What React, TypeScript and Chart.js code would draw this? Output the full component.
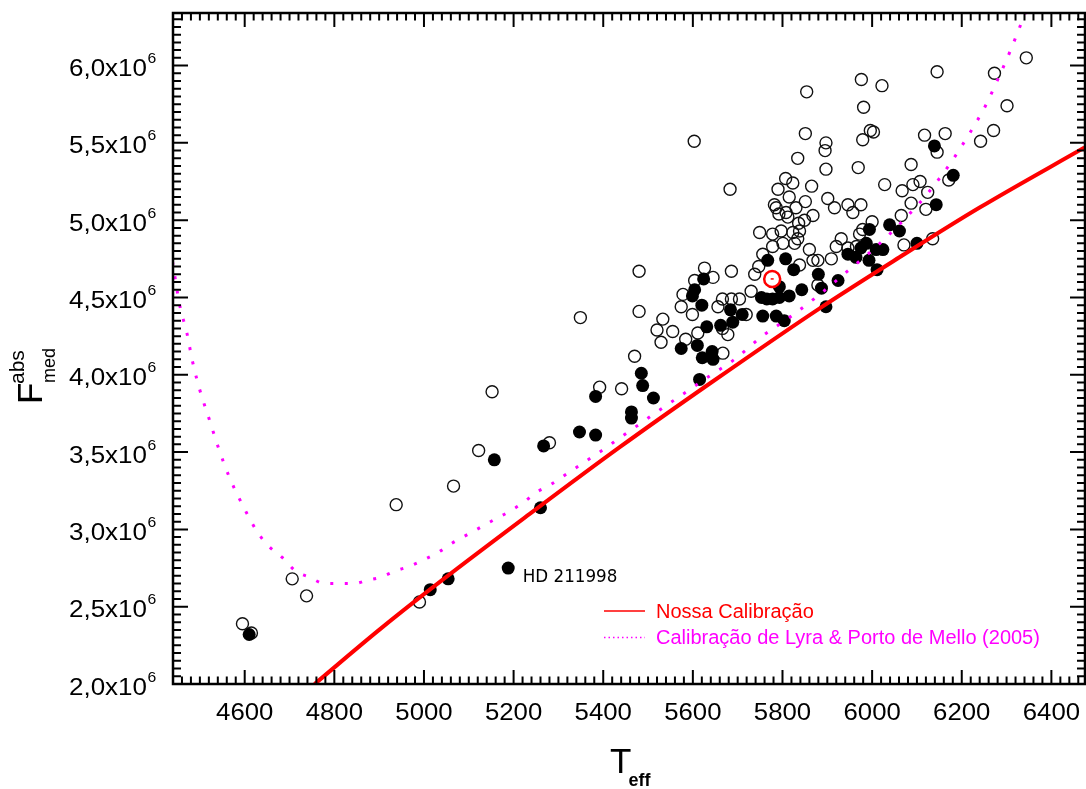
import React, { useEffect, useRef } from 'react';
import { Chart, registerables } from 'chart.js';

Chart.register(...registerables);

// Axis ranges: effective temperature (K) and absolute flux (10^6 units)
const TEFF_MIN = 4440;
const TEFF_MAX = 6475;
const FLUX_MIN = 2.0;
const FLUX_MAX = 6.34;

// Labelled ticks
const teffTicks = [4600, 4800, 5000, 5200, 5400, 5600, 5800, 6000, 6200, 6400];
const fluxTicks = [2.0, 2.5, 3.0, 3.5, 4.0, 4.5, 5.0, 5.5, 6.0];

// Comparison sample (open circles): [Teff, F_abs_med / 10^6]
const comparisonStars: [number, number][] = [
  [4595, 2.39], [4615, 2.33], [4706, 2.68], [4738, 2.57], [4990, 2.53], [4938, 3.16],
  [5066, 3.28], [5122, 3.51], [5280, 3.56], [5152, 3.89], [5392, 3.92], [5441, 3.91],
  [5349, 4.37], [5470, 4.12], [5480, 4.41], [5480, 4.67], [5603, 5.51], [5683, 5.20],
  [5686, 4.67], [5749, 4.92], [5626, 4.69], [5645, 4.63], [5604, 4.61], [5578, 4.52],
  [5574, 4.44], [5599, 4.39], [5533, 4.36], [5555, 4.28], [5520, 4.29], [5529, 4.21],
  [5584, 4.23], [5611, 4.27], [5666, 4.49], [5686, 4.49], [5704, 4.49], [5656, 4.44],
  [5678, 4.26], [5666, 4.30], [5719, 4.39], [5730, 4.54], [5738, 4.65], [5747, 4.70],
  [5667, 4.14], [5756, 4.78], [5778, 4.91], [5778, 4.83], [5801, 4.85], [5823, 4.92],
  [5834, 4.88], [5849, 5.00], [5786, 5.08], [5808, 5.05], [5860, 4.81], [5838, 4.71],
  [5807, 5.27], [5823, 5.24], [5865, 5.22], [5790, 5.20], [5815, 5.15], [5851, 5.12],
  [5782, 5.10], [5830, 5.08], [5792, 5.04], [5812, 5.02], [5836, 4.98], [5868, 5.03],
  [5901, 5.14], [5916, 5.08], [5946, 5.10], [5957, 5.05], [5797, 4.93], [5838, 4.93],
  [5879, 4.58], [5879, 4.74], [5827, 4.85], [5868, 4.74], [5931, 4.88], [5920, 4.83],
  [5909, 4.75], [5946, 4.82], [5965, 4.83], [5972, 4.91], [5979, 4.94], [6000, 4.99],
  [6065, 5.03], [6071, 4.84], [6135, 4.88], [5975, 5.10], [6028, 5.23], [6067, 5.19],
  [6087, 5.36], [6107, 5.25], [6091, 5.23], [6124, 5.18], [6087, 5.11], [6120, 5.07],
  [6171, 5.26], [5969, 5.34], [5897, 5.33], [5851, 5.56], [5897, 5.50], [5895, 5.45],
  [5834, 5.40], [5854, 5.83], [5976, 5.91], [6022, 5.87], [5981, 5.73], [5996, 5.58],
  [6003, 5.57], [5979, 5.52], [6145, 5.96], [6344, 6.05], [6273, 5.95], [6301, 5.74],
  [6271, 5.58], [6242, 5.51], [6163, 5.56], [6117, 5.55], [6145, 5.44],
];

// Calibration sample (filled circles): [Teff, F_abs_med / 10^6]
const hd211998: [number, number] = [5188, 2.75];
const calibrationStars: [number, number][] = [
  [4610, 2.32], [5014, 2.61], [5054, 2.68], hd211998, [5260, 3.14], [5157, 3.45],
  [5267, 3.54], [5347, 3.63], [5383, 3.61], [5383, 3.86], [5463, 3.76], [5463, 3.72],
  [5512, 3.85], [5485, 4.01], [5488, 3.93], [5615, 3.97], [5574, 4.17], [5610, 4.19],
  [5621, 4.11], [5645, 4.10], [5643, 4.15], [5631, 4.31], [5662, 4.32], [5624, 4.62],
  [5604, 4.55], [5599, 4.51], [5620, 4.45], [5684, 4.42], [5710, 4.39], [5756, 4.38],
  [5753, 4.50], [5765, 4.49], [5786, 4.38], [5804, 4.35], [5778, 4.49], [5793, 4.50],
  [5815, 4.51], [5843, 4.55], [5793, 4.57], [5767, 4.74], [5807, 4.75], [5825, 4.68],
  [5880, 4.65], [5887, 4.56], [5924, 4.61], [5897, 4.44], [5946, 4.78], [5964, 4.76],
  [5993, 4.74], [5987, 4.85], [5994, 4.94], [6009, 4.81], [6024, 4.81], [6039, 4.97],
  [6061, 4.93], [6011, 4.68], [6100, 4.85], [6143, 5.10], [6181, 5.29], [6139, 5.48],
  [5689, 4.34], [5975, 4.82],
];

// The Sun
const sun: [number, number] = [5777, 4.62];

// Our calibration curve
const ourCalTeff = [4756, 4900, 5013, 5236, 5436, 5641, 5883, 6061, 6239, 6474];
const ourCalFlux = [2.0, 2.35, 2.61, 3.1, 3.53, 3.95, 4.43, 4.76, 5.08, 5.47];

// Lyra & Porto de Mello (2005) calibration curve
const lyraTeff = [
  4439, 4455, 4471, 4484, 4500, 4520, 4540, 4564, 4593, 4629, 4654, 4683, 4714, 4745,
  4778, 4812, 4845, 4872, 4903, 4935, 4966, 4997, 5031, 5062, 5093, 5124, 5155, 5187,
  5220, 5251, 5283, 5314, 5345, 5376, 5407, 5436, 5631, 5693, 5755, 5820, 5883, 5945,
  6010, 6070, 6126, 6175, 6215, 6253, 6282, 6309, 6335, 6342,
];
const lyraFlux = [
  4.73, 4.45, 4.27, 4.08, 3.90, 3.72, 3.54, 3.35, 3.17, 2.98, 2.89, 2.82, 2.73, 2.69,
  2.65, 2.65, 2.65, 2.67, 2.69, 2.73, 2.76, 2.80, 2.85, 2.91, 2.96, 3.01, 3.06, 3.11,
  3.17, 3.24, 3.29, 3.35, 3.41, 3.47, 3.53, 3.59, 3.98, 4.10, 4.25, 4.38, 4.52, 4.67,
  4.83, 5.00, 5.18, 5.37, 5.55, 5.74, 5.92, 6.10, 6.29, 6.34,
];

const SANS = '"Liberation Sans", Arial, sans-serif';
const RED = '#ff0000';
const MAGENTA = '#ff00ff';

const toXY = (pairs: [number, number][]) => pairs.map(([x, y]) => ({ x, y }));
const zipXY = (xs: number[], ys: number[]) => xs.map((x, i) => ({ x, y: ys[i] }));

// Draws text horizontally stretched by sx, aligned on x
function stretchedText(
  ctx: CanvasRenderingContext2D,
  text: string,
  x: number,
  y: number,
  font: string,
  sx: number,
  align: 'left' | 'center' | 'right',
) {
  ctx.save();
  ctx.font = font;
  ctx.textAlign = 'left';
  ctx.textBaseline = 'alphabetic';
  const w = ctx.measureText(text).width * sx;
  const left = align === 'left' ? x : align === 'center' ? x - w / 2 : x - w;
  ctx.translate(left, y);
  ctx.scale(sx, 1);
  ctx.fillText(text, 0, 0);
  ctx.restore();
  return w;
}

// Box frame with inward ticks on all four sides, tick labels, titles, legend and note
const framePlugin = {
  id: 'frameAndLabels',
  afterDraw(chart: any) {
    const ctx: CanvasRenderingContext2D = chart.ctx;
    const a = chart.chartArea;
    const xs = chart.scales.x;
    const ys = chart.scales.y;

    ctx.save();
    ctx.strokeStyle = '#000';
    ctx.lineWidth = 2;
    ctx.lineCap = 'butt';
    ctx.beginPath();
    for (let k = Math.ceil(TEFF_MIN / 20); k * 20 <= TEFF_MAX; k++) {
      const px = xs.getPixelForValue(k * 20);
      const len = k % 10 === 0 ? 14 : 7.5;
      ctx.moveTo(px, a.bottom);
      ctx.lineTo(px, a.bottom - len);
      ctx.moveTo(px, a.top);
      ctx.lineTo(px, a.top + len);
    }
    for (let k = Math.round(FLUX_MIN / 0.05); k * 0.05 <= FLUX_MAX + 1e-9; k++) {
      const py = ys.getPixelForValue(k * 0.05);
      const len = k % 10 === 0 ? 15 : 8;
      ctx.moveTo(a.left, py);
      ctx.lineTo(a.left + len, py);
      ctx.moveTo(a.right, py);
      ctx.lineTo(a.right - len, py);
    }
    ctx.stroke();
    ctx.lineWidth = 2.5;
    ctx.strokeRect(a.left, a.top, a.right - a.left, a.bottom - a.top);

    // Tick labels
    ctx.fillStyle = '#000';
    for (const t of teffTicks) {
      stretchedText(ctx, String(t), xs.getPixelForValue(t), a.bottom + 36, `23px ${SANS}`, 1.12, 'center');
    }
    for (const f of fluxTicks) {
      const py = ys.getPixelForValue(f);
      const main = f.toFixed(1).replace('.', ',') + 'x10';
      stretchedText(ctx, main, a.left - 26, py + 10.5, `23px ${SANS}`, 1.13, 'right');
      stretchedText(ctx, '6', a.left - 25.5, py - 2.5, `15px ${SANS}`, 1.05, 'left');
    }

    // X title: T_eff
    const cx = (a.left + a.right) / 2;
    stretchedText(ctx, 'T', cx - 19, a.bottom + 89, `35px ${SANS}`, 1, 'left');
    stretchedText(ctx, 'eff', cx - 0.5, a.bottom + 102, `bold 18px ${SANS}`, 1, 'left');

    // Y title: F^abs_med, rotated
    ctx.save();
    ctx.translate(0, 404);
    ctx.rotate(-Math.PI / 2);
    ctx.textAlign = 'left';
    ctx.textBaseline = 'alphabetic';
    ctx.font = `35px ${SANS}`;
    ctx.fillText('F', 0, 42);
    ctx.font = `21px ${SANS}`;
    ctx.fillText('abs', 20, 23.5);
    ctx.font = `18px ${SANS}`;
    ctx.fillText('med', 21, 55);
    ctx.restore();

    // Legend
    ctx.strokeStyle = RED;
    ctx.lineWidth = 1.5;
    ctx.setLineDash([]);
    ctx.beginPath();
    ctx.moveTo(604, 611);
    ctx.lineTo(645, 611);
    ctx.stroke();
    ctx.fillStyle = RED;
    stretchedText(ctx, 'Nossa Calibração', 656, 617.5, `20px ${SANS}`, 1, 'left');

    ctx.strokeStyle = MAGENTA;
    ctx.lineWidth = 1.5;
    ctx.setLineDash([1.5, 3]);
    ctx.beginPath();
    ctx.moveTo(604, 637.5);
    ctx.lineTo(645, 637.5);
    ctx.stroke();
    ctx.setLineDash([]);
    ctx.fillStyle = MAGENTA;
    stretchedText(ctx, 'Calibração de Lyra & Porto de Mello (2005)', 656, 643.5, `20px ${SANS}`, 1, 'left');

    // Note next to HD 211998
    const hx = xs.getPixelForValue(hd211998[0]);
    const hy = ys.getPixelForValue(hd211998[1]);
    ctx.fillStyle = '#000';
    stretchedText(ctx, 'HD 211998', hx + 14.5, hy + 13.7, '18px "DejaVu Sans", sans-serif', 0.93, 'left');

    ctx.restore();
  },
};

export default function App() {
  const canvasRef = useRef<HTMLCanvasElement | null>(null);

  useEffect(() => {
    document.body.style.margin = '0';
    const canvas = canvasRef.current;
    if (!canvas) return;

    const chart = new Chart(canvas, {
      type: 'scatter',
      data: {
        datasets: [
          {
            label: 'Sol (centro)',
            data: toXY([sun]),
            pointStyle: 'line',
            pointRadius: 1.5,
            pointBorderColor: RED,
            pointBorderWidth: 1.5,
            order: 0,
          },
          {
            label: 'Sol',
            data: toXY([sun]),
            pointStyle: 'circle',
            pointRadius: 8,
            pointBorderWidth: 2.5,
            pointBorderColor: RED,
            pointBackgroundColor: '#ffffff',
            order: 1,
          },
          {
            label: 'Calibração de Lyra & Porto de Mello (2005)',
            data: zipXY(lyraTeff, lyraFlux),
            showLine: true,
            borderColor: MAGENTA,
            borderWidth: 3,
            borderDash: [3, 11.5],
            borderCapStyle: 'butt',
            pointRadius: 0,
            cubicInterpolationMode: 'monotone',
            order: 2,
          },
          {
            label: 'Nossa Calibração',
            data: zipXY(ourCalTeff, ourCalFlux),
            showLine: true,
            borderColor: RED,
            borderWidth: 4,
            pointRadius: 0,
            cubicInterpolationMode: 'monotone',
            order: 3,
          },
          {
            label: 'Calibradores',
            data: toXY(calibrationStars),
            pointStyle: 'circle',
            pointRadius: 6.5,
            pointBorderWidth: 0,
            pointBackgroundColor: '#000000',
            pointBorderColor: '#000000',
            order: 4,
          },
          {
            label: 'Amostra',
            data: toXY(comparisonStars),
            pointStyle: 'circle',
            pointRadius: 6,
            pointBorderWidth: 1.4,
            pointBackgroundColor: 'rgba(0,0,0,0)',
            pointBorderColor: '#111111',
            order: 5,
          },
        ],
      },
      options: {
        responsive: false,
        animation: false,
        devicePixelRatio: 1,
        events: [],
        layout: { autoPadding: false, padding: { top: 13, right: 1, left: 0, bottom: 0 } },
        plugins: {
          legend: { display: false },
          tooltip: { enabled: false },
          title: { display: false },
        },
        scales: {
          x: {
            type: 'linear',
            min: TEFF_MIN,
            max: TEFF_MAX,
            grid: { display: false },
            border: { display: false },
            ticks: { display: false },
            afterFit: (scale: any) => {
              scale.height = 105;
            },
          },
          y: {
            type: 'linear',
            min: FLUX_MIN,
            max: FLUX_MAX,
            grid: { display: false },
            border: { display: false },
            ticks: { display: false },
            afterFit: (scale: any) => {
              scale.width = 173;
            },
          },
        },
      } as any,
      plugins: [framePlugin],
    });

    return () => chart.destroy();
  }, []);

  return (
    <div style={{ width: 1086, height: 789, background: '#ffffff' }}>
      <canvas ref={canvasRef} width={1086} height={789} style={{ display: 'block' }} />
    </div>
  );
}
